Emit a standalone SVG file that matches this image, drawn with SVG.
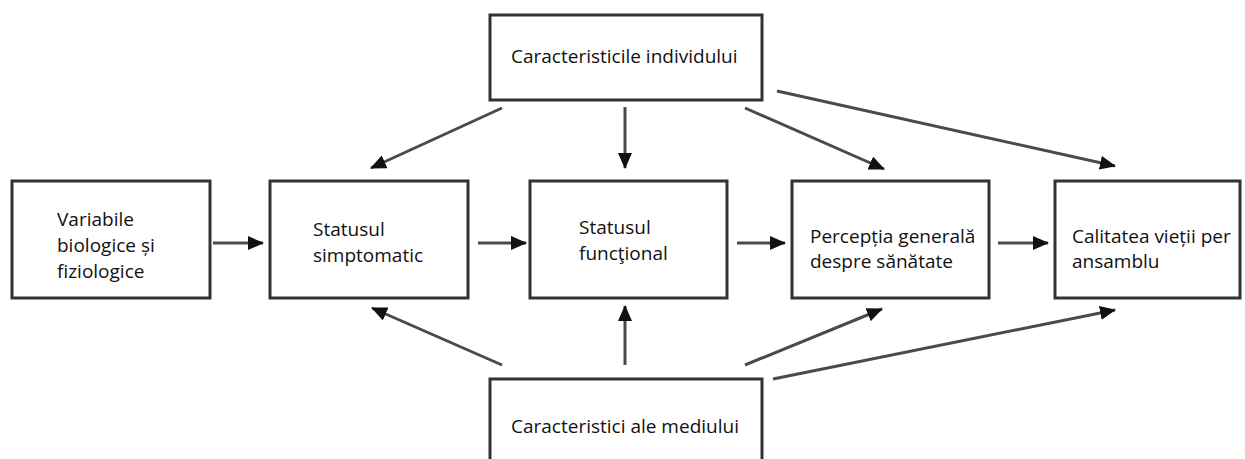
<svg xmlns="http://www.w3.org/2000/svg" width="1245" height="459" viewBox="0 0 1245 459">
<defs>
<marker id="ah" markerWidth="16" markerHeight="14" refX="15" refY="7" orient="auto" markerUnits="userSpaceOnUse" viewBox="0 0 16 14">
<path d="M0,0 L16,7 L0,14 z" fill="#111"/>
</marker>
<style>
.box{fill:#fff;stroke:#333;stroke-width:3}
.t{font-family:"Open Sans","Noto Sans",sans-serif;font-size:19px;fill:#111}
.c line{stroke:#4a4a4a;stroke-width:3;marker-end:url(#ah)}
</style>
</defs>
<rect width="1245" height="459" fill="#fff"/>
<g id="n-individ"><rect class="box" x="490" y="15" width="272" height="85"/><text class="t" x="511" y="63">Caracteristicile individului</text></g>
<g id="n-mediu"><rect class="box" x="490" y="379" width="272" height="90"/><text class="t" x="511" y="433">Caracteristici ale mediului</text></g>
<g id="n-var"><rect class="box" x="12" y="181" width="198" height="117"/><text class="t" x="57" y="226">Variabile</text><text class="t" x="57" y="252">biologice și</text><text class="t" x="57" y="278">fiziologice</text></g>
<g id="n-simpt"><rect class="box" x="270" y="181" width="198" height="117"/><text class="t" x="313" y="236">Statusul</text><text class="t" x="313" y="262">simptomatic</text></g>
<g id="n-funct"><rect class="box" x="530" y="181" width="197" height="117"/><text class="t" x="579" y="234">Statusul</text><text class="t" x="579" y="260">funcţional</text></g>
<g id="n-perc"><rect class="box" x="792" y="181" width="197" height="117"/><text class="t" x="810" y="243">Percepția generală</text><text class="t" x="810" y="268">despre sănătate</text></g>
<g id="n-calit"><rect class="box" x="1055" y="181" width="185" height="117"/><text class="t" x="1072" y="243">Calitatea vieții per</text><text class="t" x="1072" y="268">ansamblu</text></g>
<g id="connectors" class="c">
<line x1="213" y1="243" x2="263" y2="243"/>
<line x1="478" y1="243" x2="526" y2="243"/>
<line x1="737" y1="243" x2="785" y2="243"/>
<line x1="998" y1="243" x2="1048" y2="243"/>
<line x1="502" y1="108" x2="371" y2="168"/>
<line x1="625" y1="107" x2="625" y2="168"/>
<line x1="745" y1="108" x2="884" y2="169"/>
<line x1="777" y1="91" x2="1115" y2="166"/>
<line x1="502" y1="365" x2="372" y2="308"/>
<line x1="625" y1="365" x2="625" y2="306"/>
<line x1="745" y1="365" x2="882" y2="309"/>
<line x1="773" y1="379" x2="1115" y2="310"/>
</g>
</svg>
